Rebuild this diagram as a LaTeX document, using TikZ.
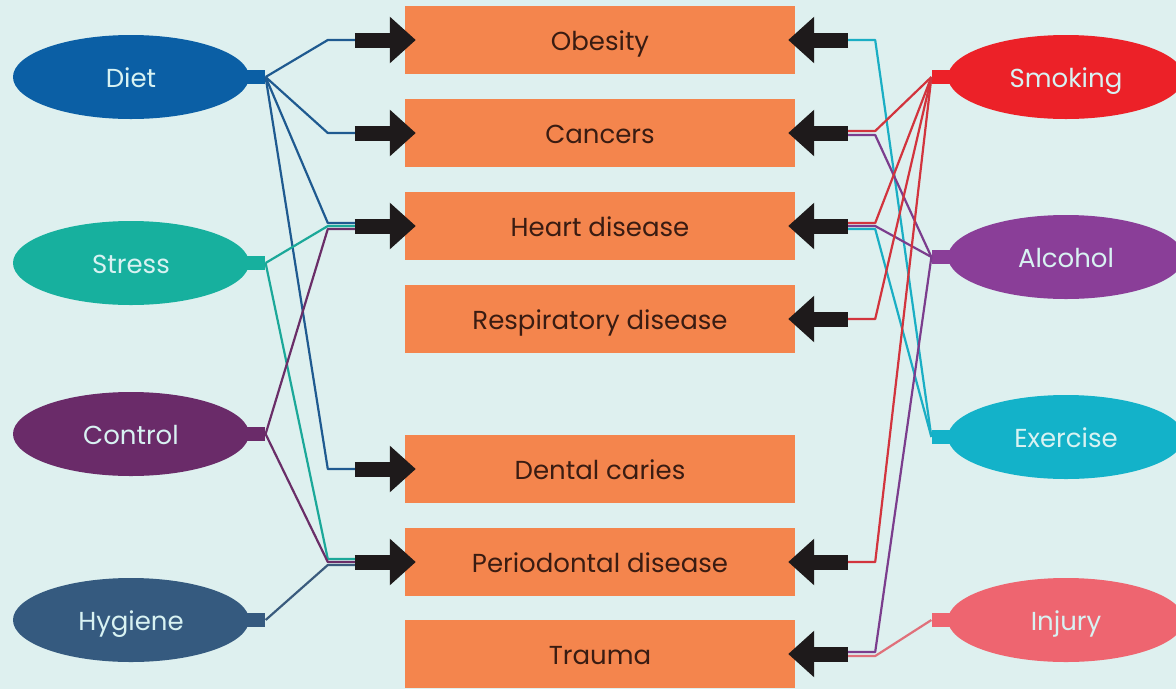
\documentclass[tikz,border=0pt]{standalone}
\usepackage{fontspec}
\setmainfont{Poppins}
\usetikzlibrary{arrows.meta,calc,shapes.geometric}
\definecolor{bg}{HTML}{DEF0EF}
\definecolor{boxc}{HTML}{F4854D}
\definecolor{boxt}{HTML}{3A1C12}
\definecolor{elt}{HTML}{D8F2F2}
\definecolor{arr}{HTML}{1E1A1B}
\definecolor{cdiet}{HTML}{0B5FA5}
\definecolor{cstress}{HTML}{17B09E}
\definecolor{ccontrol}{HTML}{6A2B69}
\definecolor{chyg}{HTML}{355A7F}
\definecolor{csmoke}{HTML}{EC2128}
\definecolor{calc}{HTML}{8A3E98}
\definecolor{cex}{HTML}{13B2C9}
\definecolor{cinj}{HTML}{EE6570}
\definecolor{ldiet}{HTML}{1F5A90}
\definecolor{lstress}{HTML}{1BA899}
\definecolor{lcontrol}{HTML}{6A2E68}
\definecolor{lhyg}{HTML}{3A5B7D}
\definecolor{lsmoke}{HTML}{D2343D}
\definecolor{lalc}{HTML}{7B3D8D}
\definecolor{lex}{HTML}{1AAEC4}
\definecolor{linj}{HTML}{E0707A}
\tikzset{
  boxnode/.style={rectangle, fill=boxc, minimum width=390pt, minimum height=68pt, inner sep=0pt, text=boxt, text height=21pt, text depth=0pt, font=\fontsize{26}{30}\selectfont},
  ell/.style={ellipse, minimum width=236pt, minimum height=84pt, inner sep=0pt, text=elt, text height=20pt, text depth=0pt, font=\fontsize{26}{30}\selectfont},
  nub/.style={rectangle, minimum width=20pt, minimum height=14pt, inner sep=0pt},
  conn/.style={line width=2.2pt, line join=round},
  bigarrow/.style={arr, line width=15pt, -{Triangle[length=26pt,width=45pt]}},
}
\begin{document}
\begin{tikzpicture}[x=1pt,y=-1pt]
\useasboundingbox (0,0) rectangle (1176,689);
\clip (0,0) rectangle (1176,689);
\fill[bg] (0,0) rectangle (1176,689);

% boxes
\node[boxnode] (ob) at (600,40) {Obesity};
\node[boxnode] (ca) at (600,133) {Cancers};
\node[boxnode] (he) at (600,226) {Heart disease};
\node[boxnode] (re) at (600,319) {Respiratory disease};
\node[boxnode] (dc) at (600,469) {Dental caries};
\node[boxnode] (pe) at (600,562) {Periodontal disease};
\node[boxnode] (tr) at (600,654) {Trauma};

% left ellipses
\node[ell, fill=cdiet] (diet) at (131,77) {Diet};
\node[ell, fill=cstress] (stress) at (131,263) {Stress};
\node[ell, fill=ccontrol] (control) at (131,434) {Control};
\node[ell, fill=chyg] (hyg) at (131,620) {Hygiene};
\node[nub, fill=cdiet, anchor=west] (dietn) at ($(diet.east)+(-4,0)$) {};
\node[nub, fill=cstress, anchor=west] (stressn) at ($(stress.east)+(-4,0)$) {};
\node[nub, fill=ccontrol, anchor=west] (controln) at ($(control.east)+(-4,0)$) {};
\node[nub, fill=chyg, anchor=west] (hygn) at ($(hyg.east)+(-4,0)$) {};

% right ellipses
\node[ell, fill=csmoke] (smk) at (1066,77) {Smoking};
\node[ell, fill=calc] (alc) at (1066,257) {Alcohol};
\node[ell, fill=cex] (ex) at (1066,437) {Exercise};
\node[ell, fill=cinj] (inj) at (1066,620) {Injury};
\node[nub, fill=csmoke, anchor=east] (smkn) at ($(smk.west)+(4,0)$) {};
\node[nub, fill=calc, anchor=east] (alcn) at ($(alc.west)+(4,0)$) {};
\node[nub, fill=cex, anchor=east] (exn) at ($(ex.west)+(4,0)$) {};
\node[nub, fill=cinj, anchor=east] (injn) at ($(inj.west)+(4,0)$) {};

% junctions and arrow ends
\foreach \b in {ob,ca,he,re,dc,pe,tr}{
  \coordinate (\b-l) at ($(\b.west)+(-77,0)$);
  \coordinate (\b-a) at ($(\b.west)+(-50,0)$);
  \coordinate (\b-t) at ($(\b.west)+(11,0)$);
  \coordinate (\b-r) at ($(\b.east)+(80,0)$);
  \coordinate (\b-b) at ($(\b.east)+(53,0)$);
  \coordinate (\b-u) at ($(\b.east)+(-7,0)$);
}

% left connectors
\draw[conn, ldiet] (dietn.east) -- (ob-l) -- (ob-a);
\draw[conn, ldiet] (dietn.east) -- (ca-l) -- (ca-a);
\draw[conn, ldiet] (dietn.east) -- ($(he-l)+(0,-3)$) -- ($(he-a)+(0,-3)$);
\draw[conn, ldiet] (dietn.east) -- (dc-l) -- (dc-a);
\draw[conn, lstress] (stressn.east) -- (he-l) -- (he-a);
\draw[conn, lstress] (stressn.east) -- ($(pe-l)+(0,-3)$) -- ($(pe-a)+(0,-3)$);
\draw[conn, lcontrol] (controln.east) -- ($(he-l)+(0,3)$) -- ($(he-a)+(0,3)$);
\draw[conn, lcontrol] (controln.east) -- (pe-l) -- (pe-a);
\draw[conn, lhyg] (hygn.east) -- ($(pe-l)+(0,3)$) -- ($(pe-a)+(0,3)$);

% right connectors
\draw[conn, lex] (exn.west) -- (ob-r) -- (ob-b);
\draw[conn, lsmoke] (smkn.west) -- ($(ca-r)+(0,-2)$) -- ($(ca-b)+(0,-2)$);
\draw[conn, lalc] (alcn.west) -- ($(ca-r)+(0,2)$) -- ($(ca-b)+(0,2)$);
\draw[conn, lsmoke] (smkn.west) -- ($(he-r)+(0,-3)$) -- ($(he-b)+(0,-3)$);
\draw[conn, lalc] (alcn.west) -- (he-r) -- (he-b);
\draw[conn, lex] (exn.west) -- ($(he-r)+(0,3)$) -- ($(he-b)+(0,3)$);
\draw[conn, lsmoke] (smkn.west) -- (re-r) -- (re-b);
\draw[conn, lsmoke] (smkn.west) -- (pe-r) -- (pe-b);
\draw[conn, lalc] (alcn.west) -- ($(tr-r)+(0,-2)$) -- ($(tr-b)+(0,-2)$);
\draw[conn, linj] (injn.west) -- ($(tr-r)+(0,2)$) -- ($(tr-b)+(0,2)$);

% big arrows
\foreach \b in {ob,ca,he,dc,pe}{
  \draw[bigarrow] (\b-a) -- (\b-t);
}
\foreach \b in {ob,ca,he,re,pe,tr}{
  \draw[bigarrow] (\b-b) -- (\b-u);
}
\end{tikzpicture}
\end{document}
